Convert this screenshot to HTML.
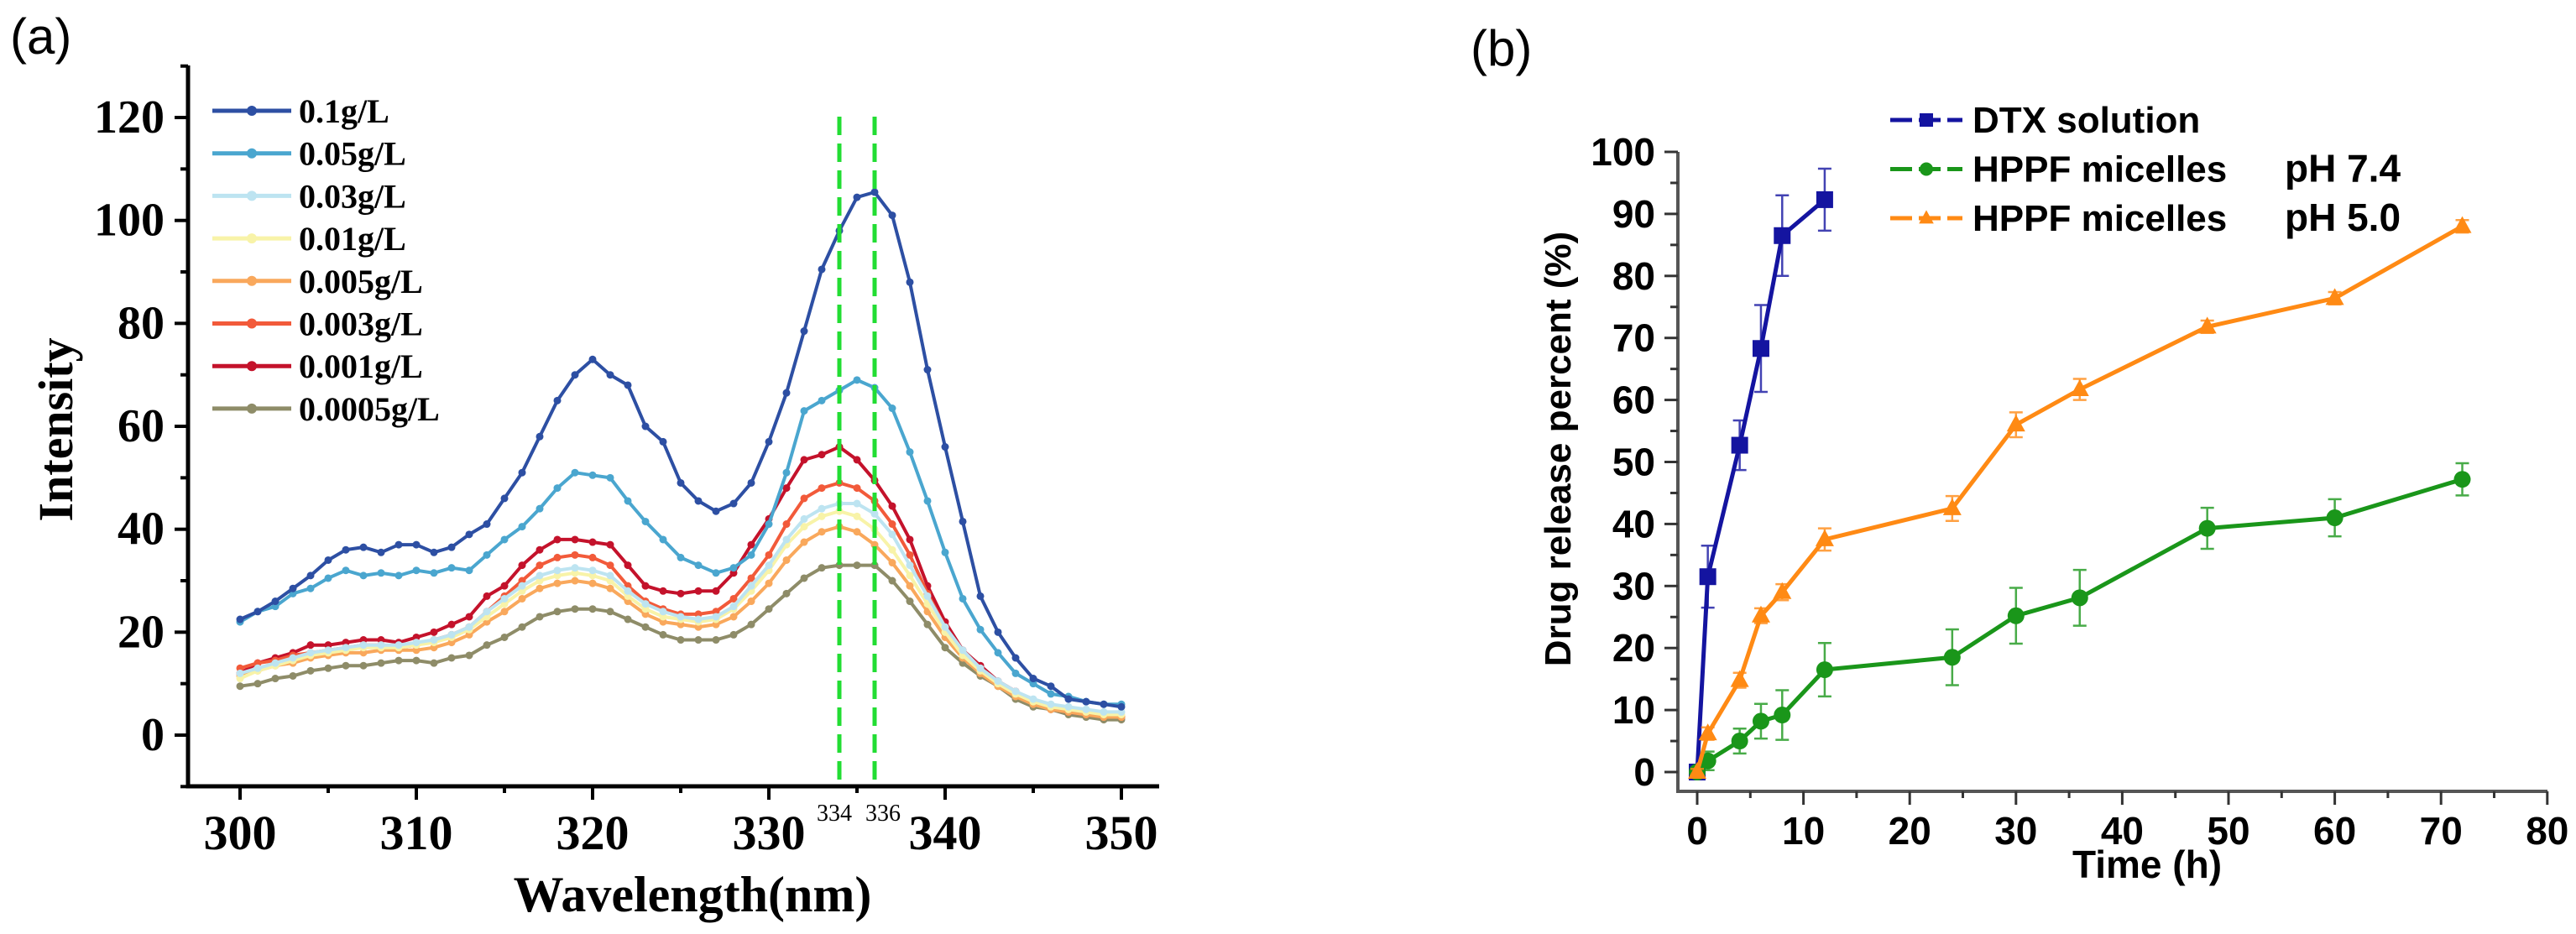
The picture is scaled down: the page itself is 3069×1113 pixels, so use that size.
<!DOCTYPE html>
<html><head><meta charset="utf-8">
<style>
html,body{margin:0;padding:0;background:#fff;}
svg{display:block;}
.tm{font-family:"Liberation Serif",serif;font-weight:bold;}
.ar{font-family:"Liberation Sans Narrow","Liberation Sans",sans-serif;font-weight:bold;}
</style></head>
<body>
<svg id="svg" width="3069" height="1113" viewBox="0 0 3069 1113" xmlns="http://www.w3.org/2000/svg">
<text x="12" y="64" font-family="Liberation Sans, sans-serif" font-size="60">(a)</text>
<text x="1752" y="78" font-family="Liberation Sans, sans-serif" font-size="60">(b)</text>
<g id="ga"></g>
<g id="gb"></g>
</svg>
<script>
// ---------- Chart A data ----------
const wavelengths = [];
for (let w = 300; w <= 350; w++) wavelengths.push(w);
const seriesNames = ["0.1g/L","0.05g/L","0.03g/L","0.01g/L","0.005g/L","0.003g/L","0.001g/L","0.0005g/L"];
const seriesColors = ["#2d4fa3","#4aa6cf","#bde4f1","#f8f3a8","#f9a85c","#f25a3a","#c4122b","#8e8c68"];
const s01 = [22.5,24,26,28.5,31,34,36,36.5,35.5,37,37,35.5,36.5,39,41,46,51,58,65,70,73,70,68,60,57,49,45.5,43.5,45,49,57,66.5,78.5,90.5,98,104.5,105.5,101,88,71,56,41.5,27,20,15,11,9.5,7,6.5,6,5.5];
const s005 = [22,24,25,27.5,28.5,30.5,32,31,31.5,31,32,31.5,32.5,32,35,38,40.5,44,48,51,50.5,50,45.5,41.5,38,34.5,33,31.5,32.5,35,41,51,63,65,67,69,67.5,63.5,55,45.5,35.5,26.5,20.5,16,12,10,8,7.5,6.5,6,6];
const s003 = [12,13,14,15,16,16.5,17,17.5,17.5,17.5,18,18.5,19.5,21,24,26.5,29,31,32,32.5,32,31,28,25.5,24,23,22.5,23,25,29,33,38,42,44,45,45,43,39,33,27,21,16.5,13,10.5,8.5,7,6,5.5,5,4.5,4.5];
const s001 = [11,12.5,13.5,14.5,15.5,16,16.5,17,17,17,17.5,18,19,20.5,23,25.5,28,30,31,31.5,31,30,27,24.5,23,22.5,22,22.5,24.5,28,32,37,40.5,42.5,43.5,42.5,40,36,31,25.5,20,15.5,12.5,10,8,6.5,5.5,5,4.5,4,4];
const s0005 = [11.5,12.5,13.5,14,15,15.5,16,16,16.5,16.5,16.5,17,18,19.5,22,24,26.5,28.5,29.5,30,29.5,28.5,26,23.5,22,21.5,21,21.5,23,26,29.5,34,37.5,39.5,40.5,39.5,37,33.5,29,24,19,15,12,9.5,7.5,6,5,4.5,4,3.5,3.5];
const s0003 = [13,14,14.5,15.5,16,16.5,17,17.5,17.5,17,17.5,18.5,19.5,21,24,27,30,33,34.5,35,34.5,33,29,26,24.5,23.5,23.5,24,26.5,30.5,35,41,46,48,49,48,45.5,41,35,27.5,21,16,12.5,10,8,6.5,5,4.5,4,3.5,3.5];
const s0001 = [12,14,15,16,17.5,17.5,18,18.5,18.5,18,19,20,21.5,23,27,29,33,36,38,38,37.5,37,33,29,28,27.5,28,28,31.5,37,42,48,53.5,54.5,56,53.5,49.5,44.5,38,29,22,16.5,13.5,10.5,8.5,6.5,5.5,4.5,4,4,3.5];
const s00005 = [9.5,10,11,11.5,12.5,13,13.5,13.5,14,14.5,14.5,14,15,15.5,17.5,19,21,23,24,24.5,24.5,24,22.5,21,19.5,18.5,18.5,18.5,19.5,21.5,24.5,27.5,30.5,32.5,33,33,33,30,26,21.5,17,14,11.5,9.5,7,5.5,5,4,3.5,3,3];
const seriesA = [s01,s005,s003,s001,s0005,s0003,s0001,s00005];
const yTicksA = [0,20,40,60,80,100,120];
const xTicksA = [300,310,320,330,340,350];
const markLines = [334,336];

// ---------- Chart B data ----------
const dtxT = [0,1,4,6,8,12];
const dtxV = [0,31.5,52.7,68.3,86.5,92.3];
const dtxE = [0.5,5,4,7,6.5,5];
const phT = [0,1,4,6,8,12,24,30,36,48,60,72];
const ph74V = [0,1.8,5,8.2,9.2,16.5,18.5,25.2,28.1,39.3,41,47.2];
const ph74E = [0.5,1.5,2,2.8,4,4.3,4.5,4.5,4.5,3.3,3,2.6];
const ph50V = [0,6.2,14.8,25.2,29,37.5,42.5,56,61.7,71.8,76.4,88];
const ph50E = [0.5,1,1.2,1.2,1.3,1.8,2,2,1.7,1,1,1];
const yTicksB = [0,10,20,30,40,50,60,70,80,90,100];
const xTicksB = [0,10,20,30,40,50,60,70,80];

const NS = "http://www.w3.org/2000/svg";
function mk(parent, tag, attrs, txt) {
  const e = document.createElementNS(NS, tag);
  for (const k in attrs) e.setAttribute(k, attrs[k]);
  if (txt !== undefined) e.textContent = txt;
  parent.appendChild(e);
  return e;
}

// ===== Chart A =====
const ga = document.getElementById('ga');
const xA = w => 286 + (w - 300) * 21;
const yA = v => 876 - v * 6.133;
let e;
e = mk(ga, 'path', {d:`M224,78 V937 H1381`, fill:'none', stroke:'#000', 'stroke-width':5});


for (let v = -10; v <= 130; v += 10) {
  const major = v % 20 === 0;
  e = mk(ga, 'line', {x1:224, x2: major ? 208 : 215, y1:yA(v), y2:yA(v), stroke:'#000', 'stroke-width':4});
  
  
}
yTicksA.forEach(v => {
  e = mk(ga, 'text', {x:196, y:yA(v)+18, 'text-anchor':'end', 'font-size':56, class:'tm'}, v);
  
  
});
for (let w = 300; w <= 350; w += 5) {
  const major = w % 10 === 0;
  e = mk(ga, 'line', {x1:xA(w), x2:xA(w), y1:937, y2: major ? 953 : 945, stroke:'#000', 'stroke-width':4});
  
  
}
xTicksA.forEach(w => {
  e = mk(ga, 'text', {x:xA(w), y:1012, 'text-anchor':'middle', 'font-size':58, class:'tm'}, w);
  
  
});
e = mk(ga, 'text', {x:825, y:1086, 'text-anchor':'middle', 'font-size':60, class:'tm'}, 'Wavelength(nm)');


e = mk(ga, 'text', {x:0, y:0, 'text-anchor':'middle', 'font-size':58, class:'tm', transform:'translate(86,512) rotate(-90)'}, 'Intensity');



for (let i = seriesA.length - 1; i >= 0; i--) {
  const data = seriesA[i];
  const d = data.map((v, j) => (j ? 'L' : 'M') + xA(wavelengths[j]).toFixed(1) + ',' + yA(v).toFixed(1)).join(' ');
  e = mk(ga, 'path', {d, fill:'none', stroke:seriesColors[i], 'stroke-width':4});
  
  
  data.forEach((v, j) => {
    e = mk(ga, 'circle', {cx:xA(wavelengths[j]), cy:yA(v), r:4.5, fill:seriesColors[i]});
    
    
  });
}
markLines.forEach((w, k) => {
  e = mk(ga, 'line', {x1:xA(w), x2:xA(w), y1:139, y2:937, stroke:'#22dd33', 'stroke-width':5, 'stroke-dasharray':'22,10'});
  
  
  e = mk(ga, 'text', {x:xA(w) + (k === 0 ? -6 : 10), y:978, 'text-anchor':'middle', 'font-size':28, 'font-family':'Liberation Serif, serif'}, w);
  
  
});
seriesNames.forEach((n, i) => {
  const y = 132 + i * 50.7;
  const g = mk(ga, 'g', {});
  
  
  mk(g, 'line', {x1:253, x2:347, y1:y, y2:y, stroke:seriesColors[i], 'stroke-width':5});
  mk(g, 'circle', {cx:300, cy:y, r:6, fill:seriesColors[i]});
  mk(g, 'text', {x:356, y:y+14, 'font-size':40, class:'tm'}, n);
});

// ===== Chart B =====
const gb = document.getElementById('gb');
const xB = t => 2022 + t * 12.66;
const yB = v => 920 - v * 7.39;
e = mk(gb, 'path', {d:`M1999,181 V943 H3035`, fill:'none', stroke:'#555', 'stroke-width':4});


for (let v = 0; v <= 100; v += 5) {
  const major = v % 10 === 0;
  e = mk(gb, 'line', {x1:1999, x2: major ? 1983 : 1990, y1:yB(v), y2:yB(v), stroke:'#333', 'stroke-width':3});
  
  
}
yTicksB.forEach(v => {
  e = mk(gb, 'text', {x:1972, y:yB(v)+16, 'text-anchor':'end', 'font-size':46, class:'ar'}, v);
  
  
});
for (let t = 0; t <= 80; t += 5) {
  const major = t % 10 === 0;
  e = mk(gb, 'line', {x1:xB(t), x2:xB(t), y1:943, y2: major ? 959 : 951, stroke:'#333', 'stroke-width':3});
  
  
}
xTicksB.forEach(t => {
  e = mk(gb, 'text', {x:xB(t), y:1006, 'text-anchor':'middle', 'font-size':46, class:'ar'}, t);
  
  
});
e = mk(gb, 'text', {x:2558, y:1046, 'text-anchor':'middle', 'font-size':46, class:'ar'}, 'Time (h)');


e = mk(gb, 'text', {x:0, y:0, 'text-anchor':'middle', 'font-size':44, class:'ar', transform:'translate(1871,535) rotate(-90)'}, 'Drug release percent (%)');



function series(name, T, V, E, color, marker) {
  const g = mk(gb, 'g', {});
  
  
  T.forEach((t, i) => {
    const x = xB(t), y1 = yB(V[i] + E[i]), y2 = yB(V[i] - E[i]);
    mk(g, 'path', {d:`M${x},${y1} V${y2} M${x-8},${y1} H${x+8} M${x-8},${y2} H${x+8}`, stroke:color, 'stroke-width':2.5, fill:'none', opacity:0.8});
  });
  mk(g, 'path', {d:T.map((t, i) => (i ? 'L' : 'M') + xB(t) + ',' + yB(V[i])).join(' '), fill:'none', stroke:color, 'stroke-width':5});
  T.forEach((t, i) => drawMarker(g, marker, xB(t), yB(V[i]), color, 10));
}
function drawMarker(g, m, x, y, c, s) {
  if (m === 'sq') mk(g, 'rect', {x:x-s, y:y-s, width:2*s, height:2*s, fill:c});
  else if (m === 'ci') mk(g, 'circle', {cx:x, cy:y, r:s, fill:c});
  else mk(g, 'path', {d:`M${x},${y-s*1.2} L${x+s*1.1},${y+s*0.8} L${x-s*1.1},${y+s*0.8} Z`, fill:c});
}
series('series-dtx-solution', dtxT, dtxV, dtxE, '#1414a0', 'sq');
series('series-hppf-ph74', phT, ph74V, ph74E, '#1a961a', 'ci');
series('series-hppf-ph50', phT, ph50V, ph50E, '#ff8a14', 'tr');

const legB = [['DTX solution','#1414a0','sq',''],['HPPF micelles','#1a961a','ci','pH 7.4'],['HPPF micelles','#ff8a14','tr','pH 5.0']];
legB.forEach((L, i) => {
  const y = 143 + i * 58.5;
  const g = mk(gb, 'g', {});
  
  
  mk(g, 'line', {x1:2252, x2:2338, y1:y, y2:y, stroke:L[1], 'stroke-width':5, 'stroke-dasharray':'26,8'});
  drawMarker(g, L[2], 2295, y, L[1], 8);
  mk(g, 'text', {x:2350, y:y+15, 'font-size':44, class:'ar'}, L[0]);
  if (L[3]) mk(g, 'text', {x:2722, y:y+15, 'font-size':46, class:'ar'}, L[3]);
});
</script>
</body></html>
